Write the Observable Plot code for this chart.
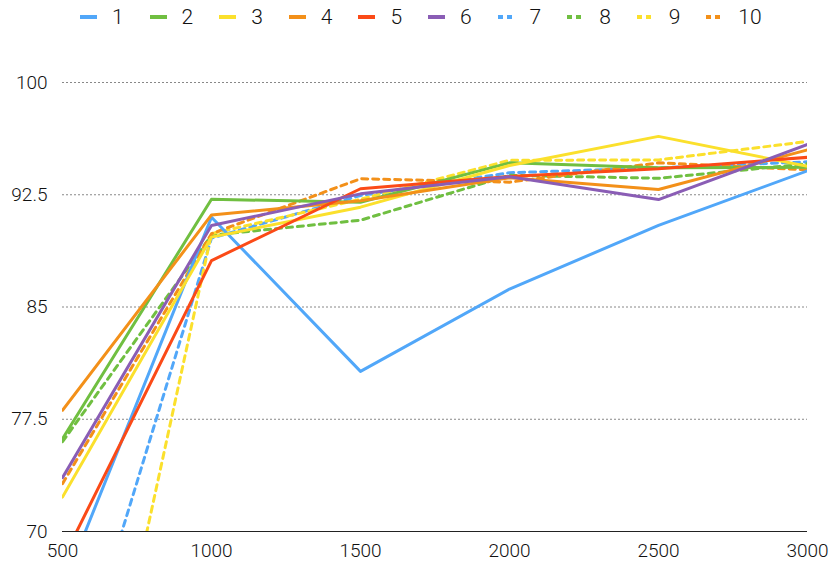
<!DOCTYPE html>
<html>
<head>
<meta charset="utf-8">
<script src="https://cdn.jsdelivr.net/npm/d3@7"></script>
<script src="https://cdn.jsdelivr.net/npm/@observablehq/plot@0.6"></script>
<style>
  body { margin: 0; background: #fff; font-family: "Helvetica Neue", Roboto, "Liberation Sans", sans-serif; }
  #legend { height: 34px; display: flex; align-items: center; padding-left: 80px; box-sizing: border-box; }
  .item { width: 69.6px; display: flex; align-items: center; font-size: 21px; font-weight: 300; color: #111; flex: none; }
  .item svg { margin-right: 15px; }
  #chart svg { display: block; }
</style>
</head>
<body>
<div id="legend"></div>
<div id="chart"></div>
<script>
const xs = [500, 1000, 1500, 2000, 2500, 3000];
const seriesNames = ["1","2","3","4","5","6","7","8","9","10"];
const s1  = [66.2, 91.0, 80.7, 86.2, 90.45, 94.1];
const s2  = [76.2, 92.2, 92.0, 94.63, 94.3, 94.34];
const s3  = [72.3, 89.67, 91.67, 94.45, 96.4, 94.4];
const s4  = [78.1, 91.15, 92.1, 93.63, 92.85, 95.5];
const s5  = [68.1, 88.1, 92.9, 93.72, 94.24, 95.0];
const s6  = [73.6, 90.45, 92.56, 93.7, 92.18, 95.86];
const s7  = [57.0, 89.6, 92.45, 93.97, 94.3, 94.7];
const s8  = [76.0, 89.8, 90.8, 93.8, 93.6, 94.57];
const s9  = [44.0, 89.9, 92.2, 94.8, 94.83, 96.06];
const s10 = [73.2, 89.9, 93.57, 93.34, 94.63, 94.17];
const allSeries = [s1, s2, s3, s4, s5, s6, s7, s8, s9, s10];
const dashedNames = ["7","8","9","10"];
const colors = ["#51a7f9","#70bf41","#fbe02c","#f39019","#fb4a17","#8a5db5","#51a7f9","#70bf41","#fbe02c","#f39019"];
const yTicks = [70, 77.5, 85, 92.5, 100];
const xTicks = [500, 1000, 1500, 2000, 2500, 3000];

const data = [];
allSeries.forEach((vals, i) => vals.forEach((v, j) => data.push({series: seriesNames[i], x: xs[j], y: v})));

// legend
const legend = document.getElementById("legend");
seriesNames.forEach((n, i) => {
  const dashed = dashedNames.includes(n);
  const item = document.createElement("div");
  item.className = "item";
  item.innerHTML = `<svg width="17" height="6"><line x1="0" x2="17" y1="3" y2="3" stroke="${colors[i]}" stroke-width="4" ${dashed ? 'stroke-dasharray="5,4"' : ''}/></svg><span>${n}</span>`;
  legend.appendChild(item);
});

const color = {domain: seriesNames, range: colors};
const chart = Plot.plot({
  width: 830,
  height: 537,
  marginLeft: 62,
  marginRight: 23,
  marginTop: 48,
  marginBottom: 40,
  style: {fontFamily: "'Helvetica Neue', Roboto, 'Liberation Sans', sans-serif", fontSize: "19px", fontWeight: 300, color: "#111", background: "#fff"},
  x: {domain: [500, 3000], ticks: xTicks, tickSize: 0, tickPadding: 12, label: null, tickFormat: d => String(d)},
  y: {domain: [70, 100], ticks: yTicks, tickSize: 0, tickPadding: 15, label: null, tickFormat: d => String(d)},
  color,
  marks: [
    Plot.gridY(yTicks.filter(d => d > 70), {stroke: "#888", strokeOpacity: 1, strokeWidth: 1, strokeDasharray: "2,2"}),
    Plot.ruleY([70], {stroke: "#222", strokeWidth: 1}),
    Plot.line(data.filter(d => dashedNames.includes(d.series)), {x: "x", y: "y", z: "series", stroke: "series", strokeWidth: 3, strokeDasharray: "6,5", clip: true}),
    Plot.line(data.filter(d => !dashedNames.includes(d.series)), {x: "x", y: "y", z: "series", stroke: "series", strokeWidth: 3, clip: true})
  ]
});
document.getElementById("chart").appendChild(chart);
</script>
</body>
</html>
